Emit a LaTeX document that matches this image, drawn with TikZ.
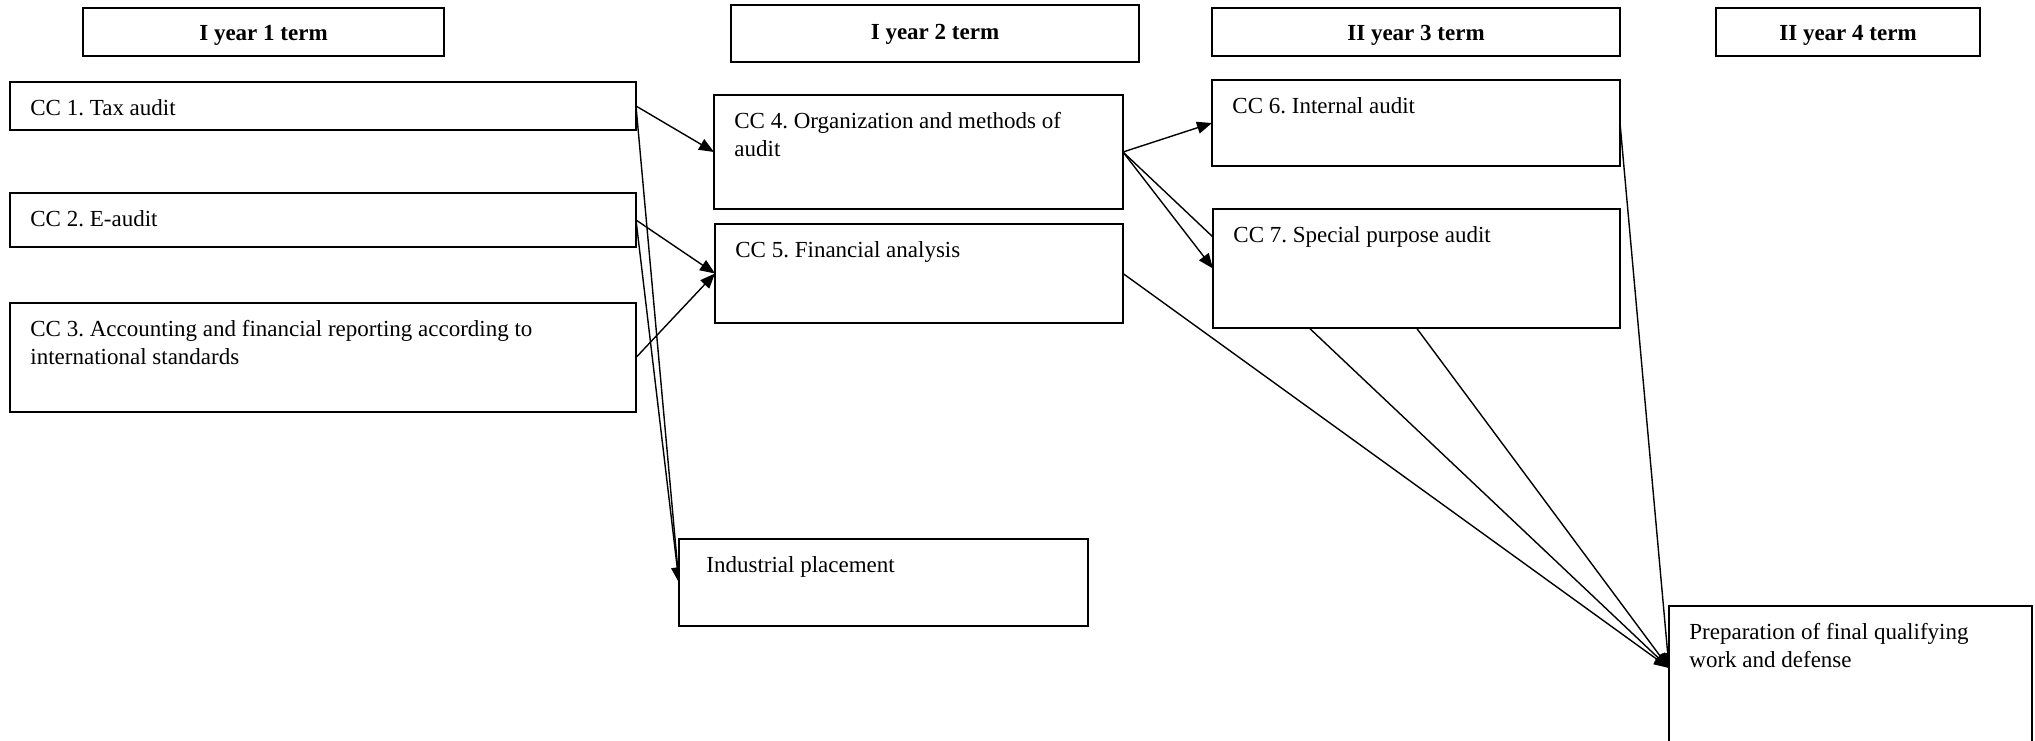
\documentclass[tikz,border=0pt]{standalone}
\usepackage{fontspec}
\setmainfont{Liberation Serif}
\usetikzlibrary{arrows.meta, backgrounds}
\frenchspacing

\begin{document}
\begin{tikzpicture}[
    x = 0.5pt, y = -0.5pt,
    box/.style = {rectangle, draw, line width=0.9pt, fill=white,
                  anchor=north west, inner sep=0pt, outer sep=0pt},
    hdr/.style = {box, font=\fontsize{11.5}{14}\selectfont\bfseries,
                  text height=11pt, text depth=2.5pt},
    txt/.style = {anchor=north west, inner sep=0pt, align=left,
                  xshift=10pt, yshift=-8.5pt},
    pil/.style = {black, line width=0.7pt, -{Triangle[length=7.5pt, width=6pt]}},
    font=\fontsize{11.5}{14}\selectfont
    ]

  \clip (0,0) rectangle (2035,740);

  % terms
  \node[hdr, minimum width=180.5pt, minimum height=24pt] (head1) at (83,8) {I year 1 term};
  \node[hdr, minimum width=204pt, minimum height=28.5pt, text height=8pt] (head2) at (731,5) {I year 2 term};
  \node[hdr, minimum width=204pt, minimum height=24pt] (head3) at (1212,8) {II year 3 term};
  \node[hdr, minimum width=132pt, minimum height=24pt] (head4) at (1716,8) {II year 4 term};

  % courses
  \node[box, minimum width=313pt, minimum height=24pt,
        label={[txt]north west:CC 1. Tax audit}] (cc1) at (10,82) {};
  \node[box, minimum width=313pt, minimum height=27pt,
        label={[txt]north west:CC 2. E-audit}] (cc2) at (10,193) {};
  \node[box, minimum width=313pt, minimum height=54.5pt,
        label={[txt]north west:CC 3. Accounting and financial reporting according to\\international standards}] (cc3) at (10,303) {};

  \node[box, minimum width=204.5pt, minimum height=57pt,
        label={[txt]north west:CC 4. Organization and methods of\\audit}] (cc4) at (714,95) {};
  \node[box, minimum width=204pt, minimum height=49.5pt,
        label={[txt]north west:CC 5. Financial analysis}] (cc5) at (715,224) {};
  \node[box, minimum width=204.5pt, minimum height=43.5pt,
        label={[txt, xshift=3.5pt]north west:Industrial placement}] (placement) at (679,539) {};

  \node[box, minimum width=204pt, minimum height=43pt,
        label={[txt]north west:CC 6. Internal audit}] (cc6) at (1212,80) {};
  \node[box, minimum width=203.5pt, minimum height=59.5pt,
        label={[txt]north west:CC 7. Special purpose audit}] (cc7) at (1213,209) {};

  \node[box, minimum width=181.5pt, minimum height=80pt,
        label={[txt]north west:Preparation of final qualifying\\work and defense}] (final) at (1669,606) {};

  \begin{scope}[on background layer]
  \draw[pil]
  (cc1.east) edge (cc4.west)
  (cc1.east) edge (placement.west)
  (cc2.east) edge (cc5.west)
  (cc2.east) edge (placement.west)
  (cc3.east) edge (cc5.west)

  (cc4.east) edge (cc6.west)
  (cc4.east) edge (cc7.west)
  (cc4.east) edge ([yshift=-31pt]final.north west)
  (cc5.east) edge ([yshift=-31pt]final.north west)

  (cc6.east) edge ([yshift=-31pt]final.north west)
  (cc7.south) -- ([yshift=-31pt]final.north west);
  \end{scope}
\end{tikzpicture}
\end{document}
